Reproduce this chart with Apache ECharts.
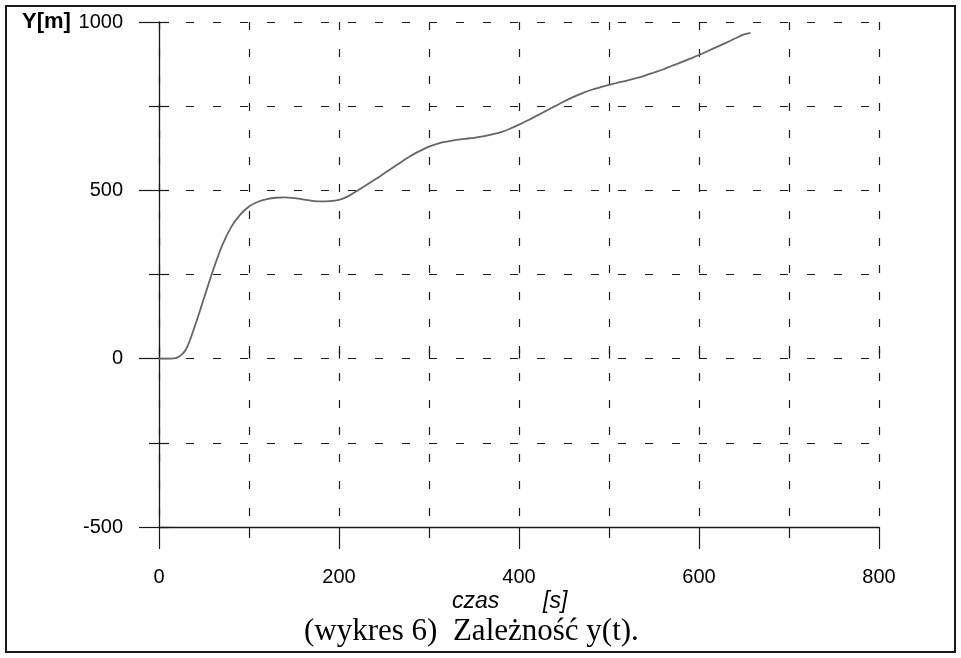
<!DOCTYPE html>
<html>
<head>
<meta charset="utf-8">
<script src="https://cdn.jsdelivr.net/npm/echarts@6/dist/echarts.min.js"></script>
<style>
html,body{margin:0;padding:0;background:#fff;}
#chart{width:961px;height:658px;}
</style>
</head>
<body>
<div id="chart"></div>
<script>
// time [s]
var timeS = [0,10,20,30,40,50,60,70,80,90,100,110,120,130,140,150,160,170,180,190,200,210,220,230,240,250,260,270,280,290,300,310,320,330,340,350,360,370,380,390,400,410,420,430,440,450,460,470,480,490,500,510,520,530,540,550,560,570,580,590,600,610,620,630,640,650,657];
// Y [m]
var yM = [0,0,3,28,98,180,262,335,390,427,452,466,474,478,479,477,473,469,467,468,472,482,498,515,532,550,568,586,603,617,630,639,645,650,653,656,660,666,673,683,695,708,722,736,750,764,777,788,798,806,813,820,826,833,841,850,859,870,880,891,902,914,926,938,951,963,968];
var xTicks = [0,200,400,600,800];
var yTicks = [-500,0,500,1000];
var yLabel = 'Y[m]';
var xName1 = 'czas';
var xName2 = '[s]';
var caption = '(wykres 6)  Zależność y(t).';

var pts = timeS.map(function(t,i){return [t,yM[i]];});
var chart = echarts.init(document.getElementById('chart'));
var dash = {color:'#1a1a1a', width:1.2, type:[8,19]};
var axisCol = '#1a1a1a';
var lblFont = {color:'#000', fontFamily:'Liberation Sans, Arial, sans-serif', fontSize:20,
  formatter:function(v){return String(v);}};
chart.setOption({
  animation:false,
  backgroundColor:'#fff',
  grid:{left:159, right:82, top:22, bottom:131, containLabel:false},
  xAxis:[{
    type:'value', min:xTicks[0], max:xTicks[xTicks.length-1], interval:200,
    axisLine:{show:true, onZero:false, lineStyle:{color:axisCol,width:1.3}},
    axisTick:{show:true, inside:false, length:22, lineStyle:{color:axisCol,width:1.2}},
    minorTick:{show:true, splitNumber:2, length:11, lineStyle:{color:axisCol,width:1.2}},
    splitLine:{show:true, lineStyle:dash},
    minorSplitLine:{show:true, lineStyle:dash},
    axisLabel:Object.assign({margin:40}, lblFont)
  },{
    type:'value', min:0, max:800, interval:100, position:'bottom',
    axisLine:{show:false}, axisLabel:{show:false}, splitLine:{show:false},
    axisTick:{show:true, inside:true, length:9, lineStyle:{color:axisCol,width:1.2}}
  }],
  yAxis:[{
    type:'value', min:yTicks[0], max:yTicks[yTicks.length-1], interval:500,
    axisLine:{show:true, onZero:false, lineStyle:{color:axisCol,width:1.3}},
    axisTick:{show:true, inside:false, length:20, lineStyle:{color:axisCol,width:1.2}},
    minorTick:{show:true, splitNumber:2, length:10, lineStyle:{color:axisCol,width:1.2}},
    splitLine:{show:true, lineStyle:dash},
    minorSplitLine:{show:true, lineStyle:dash},
    axisLabel:Object.assign({margin:36}, lblFont)
  },{
    type:'value', min:-500, max:1000, interval:250, position:'left',
    axisLine:{show:false}, axisLabel:{show:false}, splitLine:{show:false},
    axisTick:{show:true, inside:true, length:10, lineStyle:{color:axisCol,width:1.2}}
  }],
  series:[{
    type:'line', data:pts, smooth:0.3, showSymbol:false,
    lineStyle:{color:'#666', width:1.8}
  }],
  graphic:[
    {type:'rect', shape:{x:6,y:6,width:949,height:646}, style:{fill:'none', stroke:'#1a1a1a', lineWidth:2}, silent:true},
    {type:'text', x:22, y:22, style:{text:yLabel, fill:'#000', font:'bold 22px Liberation Sans, Arial, sans-serif', textVerticalAlign:'middle'}},
    {type:'text', x:452, y:602, style:{text:xName1, fill:'#000', font:'italic 23px Liberation Sans, Arial, sans-serif', textVerticalAlign:'middle'}},
    {type:'text', x:543, y:602, style:{text:xName2, fill:'#000', font:'italic 23px Liberation Sans, Arial, sans-serif', textVerticalAlign:'middle'}},
    {type:'text', x:304, y:632, style:{text:caption, fill:'#000', font:'31px Liberation Serif, Times New Roman, serif', textVerticalAlign:'middle'}}
  ]
});
</script>
</body>
</html>
